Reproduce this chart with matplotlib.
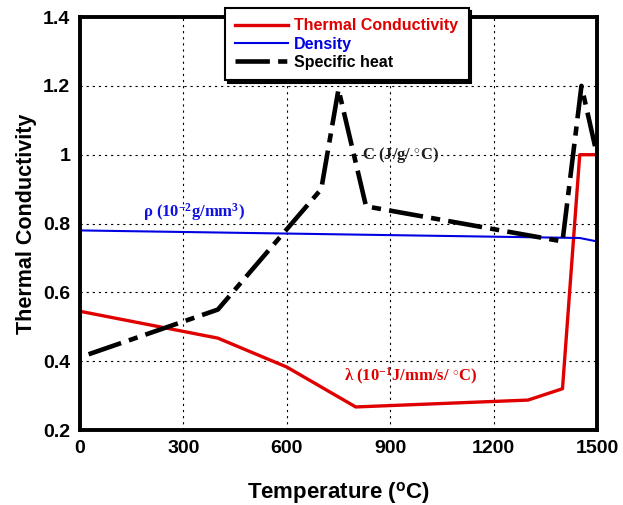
import numpy as np
import matplotlib.pyplot as plt

plt.rcParams['font.family'] = ['Liberation Sans', 'DejaVu Sans']
plt.rcParams['font.weight'] = 'bold'
plt.rcParams['mathtext.fontset'] = 'custom'
plt.rcParams['mathtext.rm'] = 'Liberation Serif:bold'
plt.rcParams['mathtext.sf'] = 'Liberation Sans:bold'
plt.rcParams['mathtext.default'] = 'rm'

# Thermal conductivity (10^-1 J/mm/s/C)
t_cond = [0, 400, 600, 800, 1300, 1400, 1450, 1500]
v_cond = [0.545, 0.467, 0.383, 0.267, 0.287, 0.32, 1.0, 1.0]

# Density (10^-2 g/mm3)
t_dens = [0, 1450, 1500]
v_dens = [0.78, 0.758, 0.748]

# Specific heat (J/g/C)
t_cp = [25, 400, 700, 750, 830, 1400, 1455, 1500]
v_cp = [0.42, 0.55, 0.9, 1.19, 0.85, 0.748, 1.2, 1.0]

xticks = [0, 300, 600, 900, 1200, 1500]
yticks = [0.2, 0.4, 0.6, 0.8, 1.0, 1.2, 1.4]
ylabels = ['0.2', '0.4', '0.6', '0.8', '1', '1.2', '1.4']

fig = plt.figure(figsize=(6.23, 5.05), dpi=100)
ax = fig.add_axes([0.1284, 0.1485, 0.8298, 0.8177])

ax.plot(t_cond, v_cond, color='#e00000', lw=2.4, label='Thermal Conductivity')
ax.plot(t_dens, v_dens, color='#0000e0', lw=1.5, label='Density')
ax.plot(t_cp, v_cp, color='black', lw=3.3, dashes=(7.5, 1.8, 2, 1.8), label='Specific heat')

ax.set_xlim(0, 1500)
ax.set_ylim(0.2, 1.4)
ax.set_xticks(xticks)
ax.set_yticks(yticks)
ax.set_yticklabels(ylabels)
ax.tick_params(length=0, labelsize=14, pad=7)
for lab in ax.get_xticklabels() + ax.get_yticklabels():
    lab.set_fontweight('bold')
ax.grid(True, color='black', linestyle=(0, (2, 3.5)), lw=0.8)
for s in ax.spines.values():
    s.set_linewidth(2.8)

ax.set_xlabel(r'Temperature ($^{\mathsf{o}}$C)', fontsize=16, fontweight='bold', labelpad=17)
ax.set_ylabel('Thermal Conductivity', fontsize=15.5, fontweight='bold', labelpad=4)

ax.text(183, 0.833, r'ρ (10$^{-2}$g/mm$^{3}$)', color='#1010e0', fontsize=12,
        family='Liberation Serif', fontweight='bold', va='center')
ax.text(818, 1.0, r'C (J/g/ $^{\circ}$C)', color='#202020', fontsize=12,
        family='Liberation Serif', fontweight='bold', va='center')
ax.text(765, 0.355, r'λ (10$^{-1}$J/mm/s/ $^{\circ}$C)', color='#e00000', fontsize=12,
        family='Liberation Serif', fontweight='bold', va='center')

leg = ax.legend(loc='upper left', bbox_to_anchor=(0.28, 1.022), fancybox=False,
                shadow={'color': 'black', 'alpha': 1}, edgecolor='black', framealpha=1,
                handlelength=3.3, handletextpad=0.4, labelspacing=0.2,
                borderpad=0.65, borderaxespad=0, prop={'weight': 'bold', 'size': 11.5})
leg.get_frame().set_linewidth(1.5)
for txt, c in zip(leg.get_texts(), ['#e00000', '#0000e0', 'black']):
    txt.set_color(c)

fig.savefig('out.png', dpi=100)
